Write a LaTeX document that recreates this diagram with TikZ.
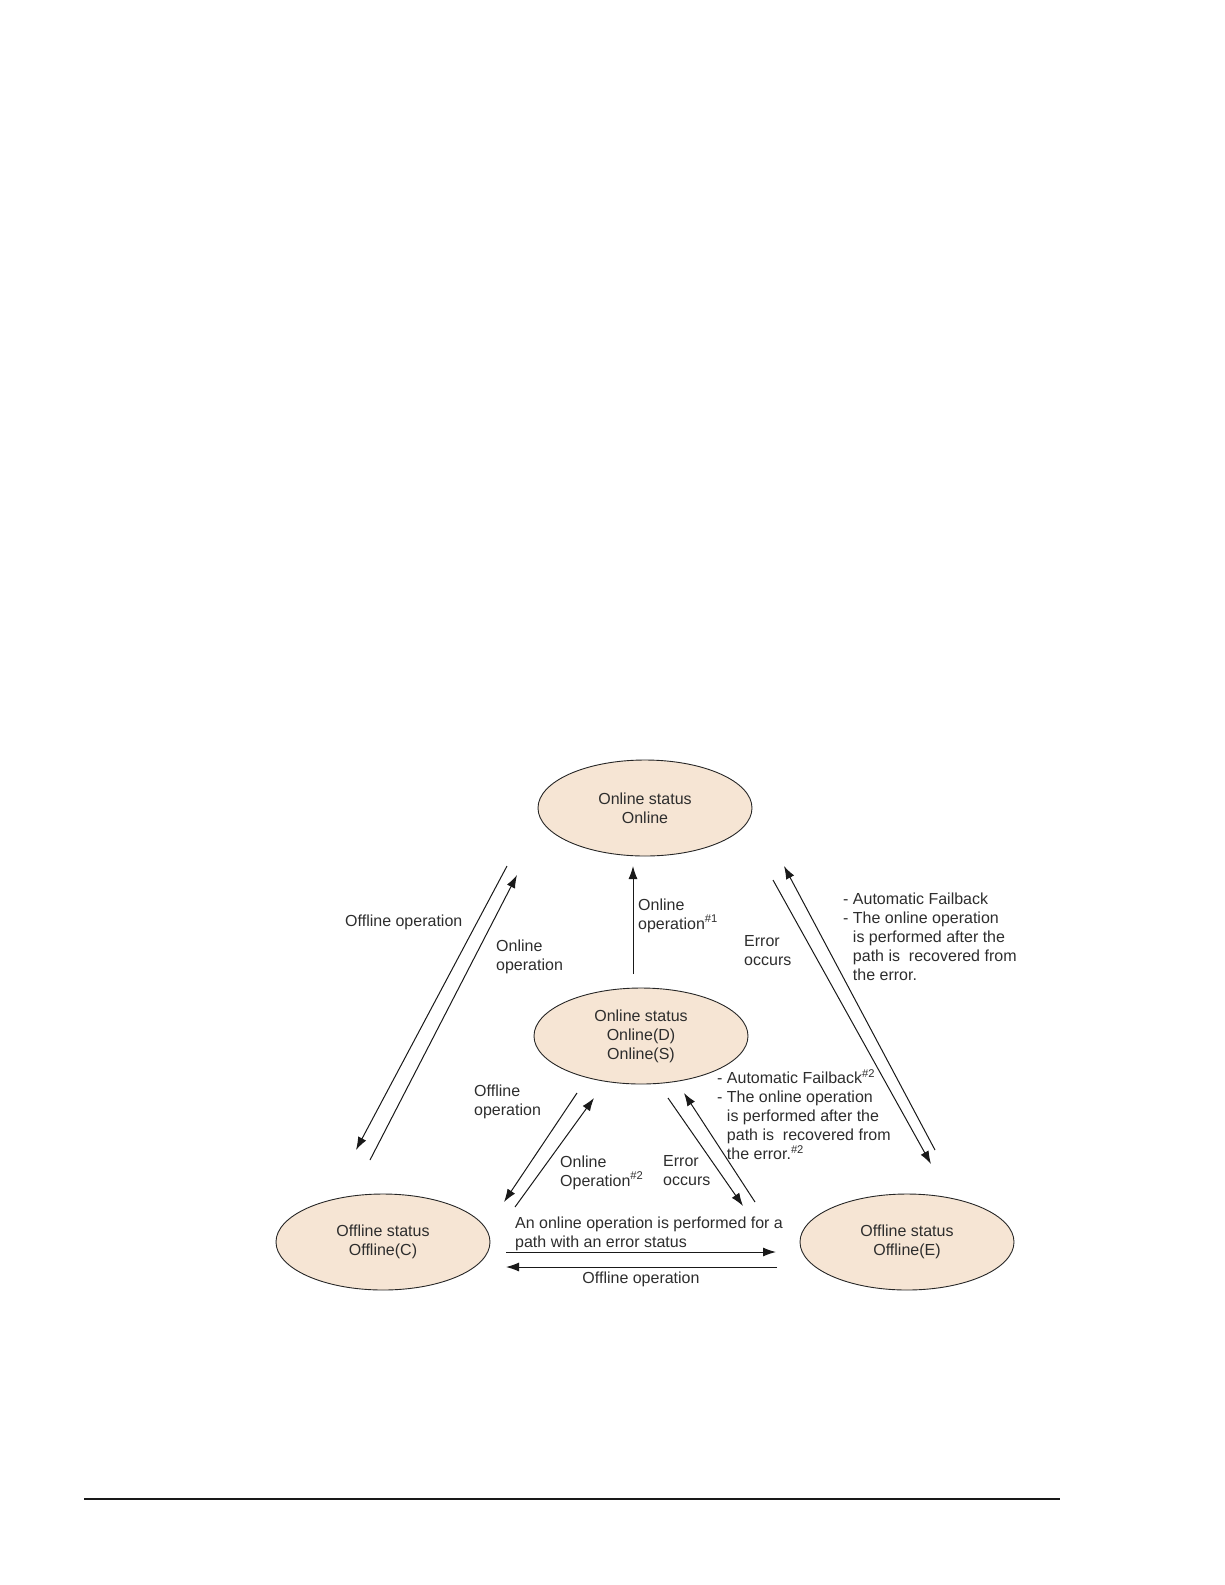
\documentclass[tikz,border=0pt]{standalone}
\usepackage{fontspec}
\setmainfont{Liberation Sans}
\usetikzlibrary{shapes.geometric, arrows.meta, positioning}
\definecolor{statefill}{RGB}{246, 229, 212}
\definecolor{textgray}{RGB}{45, 45, 45}

\begin{document}
\begin{tikzpicture}[x=1pt, y=-1pt,
    every node/.style={font=\fontsize{16}{19}\selectfont, text=textgray},
    status/.style={ellipse, draw=black!85, line width=0.9pt, fill=statefill,
                   minimum width=214pt, minimum height=96pt, align=center, inner sep=0pt},
    lbl/.style={anchor=west, align=left, inner sep=0pt},
    arr/.style={-{Latex[length=13pt, width=9pt]}, line width=1pt, black!90}]
    \useasboundingbox (0,0) rectangle (1225,1585);

    % States
    \node[status] (online) at (645, 808) {Online status\\Online};
    \node[status] (dual) at (641, 1036) {Online status\\Online(D)\\Online(S)};
    \node[status] (offc) at (383, 1242) {Offline status\\Offline(C)};
    \node[status] (offe) at (907, 1242) {Offline status\\Offline(E)};

    % Free ends of the connectors
    \coordinate (onlineA) at (507, 866);
    \coordinate (onlineB) at (517, 875);
    \coordinate (onlineC) at (633, 866);
    \coordinate (onlineD) at (773, 880);
    \coordinate (onlineE) at (784, 866);
    \coordinate (offcA) at (356, 1150);
    \coordinate (offcB) at (370, 1160);
    \coordinate (offcC) at (504, 1202);
    \coordinate (offcD) at (515, 1207);
    \coordinate (offcE) at (506, 1252);
    \coordinate (offcF) at (506, 1267);
    \coordinate (dualA) at (633, 974);
    \coordinate (dualB) at (577, 1093);
    \coordinate (dualC) at (594, 1098);
    \coordinate (dualD) at (668, 1098);
    \coordinate (dualE) at (684, 1093);
    \coordinate (offeA) at (931, 1164);
    \coordinate (offeB) at (935, 1150);
    \coordinate (offeC) at (743, 1206);
    \coordinate (offeD) at (755, 1202);
    \coordinate (offeE) at (776, 1252);
    \coordinate (offeF) at (777, 1267);

    % Arrows
    \draw[arr] (onlineA) -- (offcA);
    \draw[arr] (offcB) -- (onlineB);
    \draw[arr] (dualA) -- (onlineC);
    \draw[arr] (onlineD) -- (offeA);
    \draw[arr] (offeB) -- (onlineE);
    \draw[arr] (dualB) -- (offcC);
    \draw[arr] (offcD) -- (dualC);
    \draw[arr] (dualD) -- (offeC);
    \draw[arr] (offeD) -- (dualE);
    \draw[arr] (offcE) -- (offeE);
    \draw[arr] (offeF) -- (offcF);

    % Labels
    \node[lbl] (offopTop) at (345, 922) {Offline operation};
    \node[lbl] (onopTop) at (496, 956.5) {Online\\operation};
    \node[lbl] (onopOne) at (638, 915.5) {Online\\operation\textsuperscript{\#1}};
    \node[lbl] (errTop) at (744, 950.5) {Error\\occurs};
    \node[lbl] (failTop) at (843, 936.5) {- Automatic Failback\\- The online operation\\\phantom{- }is performed after the\\\phantom{- }path is\ \ recovered from\\\phantom{- }the error.};
    \node[lbl] (offopMid) at (474, 1101.5) {Offline\\operation};
    \node[lbl] (onopTwo) at (560, 1172.5) {Online\\Operation\textsuperscript{\#2}};
    \node[lbl] (errMid) at (663, 1171) {Error\\occurs};
    \node[lbl] (failMid) at (717, 1115) {- Automatic Failback\textsuperscript{\#2}\\- The online operation\\\phantom{- }is performed after the\\\phantom{- }path is\ \ recovered from\\\phantom{- }the error.\textsuperscript{\#2}};
    \node[lbl] (errPath) at (515, 1233.5) {An online operation is performed for a\\path with an error status};
    \node (offopBot) at (641, 1279) {Offline operation};

    % Page rule
    \draw[line width=2pt, black!90] (84, 1499) -- (1060, 1499);
\end{tikzpicture}
\end{document}
